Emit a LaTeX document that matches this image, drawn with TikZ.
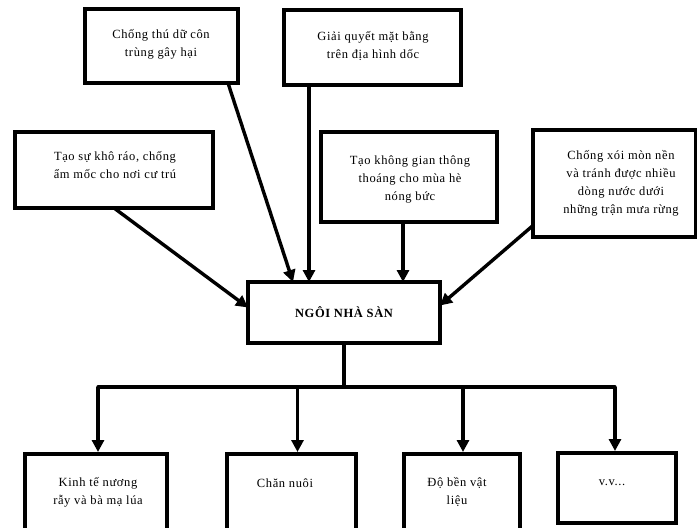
\documentclass[tikz,border=0pt]{standalone}
\usepackage{fontspec}
\setmainfont{Liberation Serif}[LetterSpace=5]
\usetikzlibrary{arrows.meta}
\begin{document}
\begin{tikzpicture}[x=1pt,y=-1pt,
  box/.style={draw,line width=3.2pt,rectangle,inner sep=0pt,outer sep=0pt,anchor=north west},
  txt/.style={align=center,inner sep=0pt,font=\fontsize{12.5}{18}\selectfont},
  arr/.style={line width=3.4pt,-{Triangle[length=12pt,width=12pt]}},
  ln/.style={line width=3.4pt}]
\useasboundingbox (0,0) rectangle (697,528);
\clip (0,0) rectangle (697,528);
% top boxes
\node[box,minimum width=153pt,minimum height=74pt] (a) at (85,9) {};
\node[txt] (ta) at (161,44) {Chống thú dữ côn\\trùng gây hại};
\node[box,minimum width=177pt,minimum height=75pt] (b) at (284,10) {};
\node[txt] (tb) at (373,46) {Giải quyết mặt bằng\\trên địa hình dốc};
\node[box,minimum width=198pt,minimum height=76pt] (c) at (15,132) {};
\node[txt] (tc) at (115,165) {Tạo sự khô ráo, chống\\ẩm mốc cho nơi cư trú};
\node[box,minimum width=176pt,minimum height=90pt] (d) at (321,132) {};
\node[txt] (td) at (410,179) {Tạo không gian thông\\thoáng cho mùa hè\\nóng bức};
\node[box,minimum width=163pt,minimum height=107pt] (e) at (533,130) {};
\node[txt] (te) at (621,183) {Chống xói mòn nền\\và tránh được nhiều\\dòng nước dưới\\những trận mưa rừng};
% center
\node[box,minimum width=192pt,minimum height=61pt] (m) at (248,282) {};
\node[txt,font=\fontsize{12.5}{18}\selectfont\bfseries] (tm) at (344,312) {NGÔI NHÀ SÀN};
% bottom boxes
\node[box,minimum width=142pt,minimum height=80pt] (k1) at (25,454) {};
\node[txt] (t1) at (98,492) {Kinh tế nương\\rẫy và bà mạ lúa};
\node[box,minimum width=129pt,minimum height=80pt] (k2) at (227,454) {};
\node[txt] (t2) at (285,483) {Chăn nuôi};
\node[box,minimum width=116pt,minimum height=80pt] (k3) at (404,454) {};
\node[txt] (t3) at (457,492) {Độ bền vật\\liệu};
\node[box,minimum width=118pt,minimum height=70pt] (k4) at (558,453) {};
\node[txt] (t4) at (612,483) {v.v...};
% arrows in
\draw[arr] ([xshift=66.5pt]a.south) -- ([xshift=-51pt]m.north);
\draw[arr] ([xshift=-63.5pt]b.south) -- ([xshift=-35pt]m.north);
\draw[arr] (c.south) -- ([yshift=5pt]m.west);
\draw[arr] ([xshift=-6pt]d.south) -- ([xshift=59pt]m.north);
\draw[arr] ([yshift=-42pt]e.west) -- ([yshift=7pt]m.east);
% arrows out
\draw[ln] (m.south) -- ++(0,44) coordinate (hub);
\draw[ln,line cap=round] ([xshift=2pt]k1.north |- hub) -- ([xshift=-2pt]k4.north |- hub);
\draw[arr] ([xshift=2pt]k1.north |- hub) -- ([xshift=2pt,yshift=2pt]k1.north);
\draw[arr] ([xshift=6pt]k2.north |- hub) -- ([xshift=6pt,yshift=2pt]k2.north);
\draw[arr] ([xshift=1pt]k3.north |- hub) -- ([xshift=1pt,yshift=2pt]k3.north);
\draw[arr] ([xshift=-2pt]k4.north |- hub) -- ([xshift=-2pt,yshift=2pt]k4.north);
\end{tikzpicture}
\end{document}
